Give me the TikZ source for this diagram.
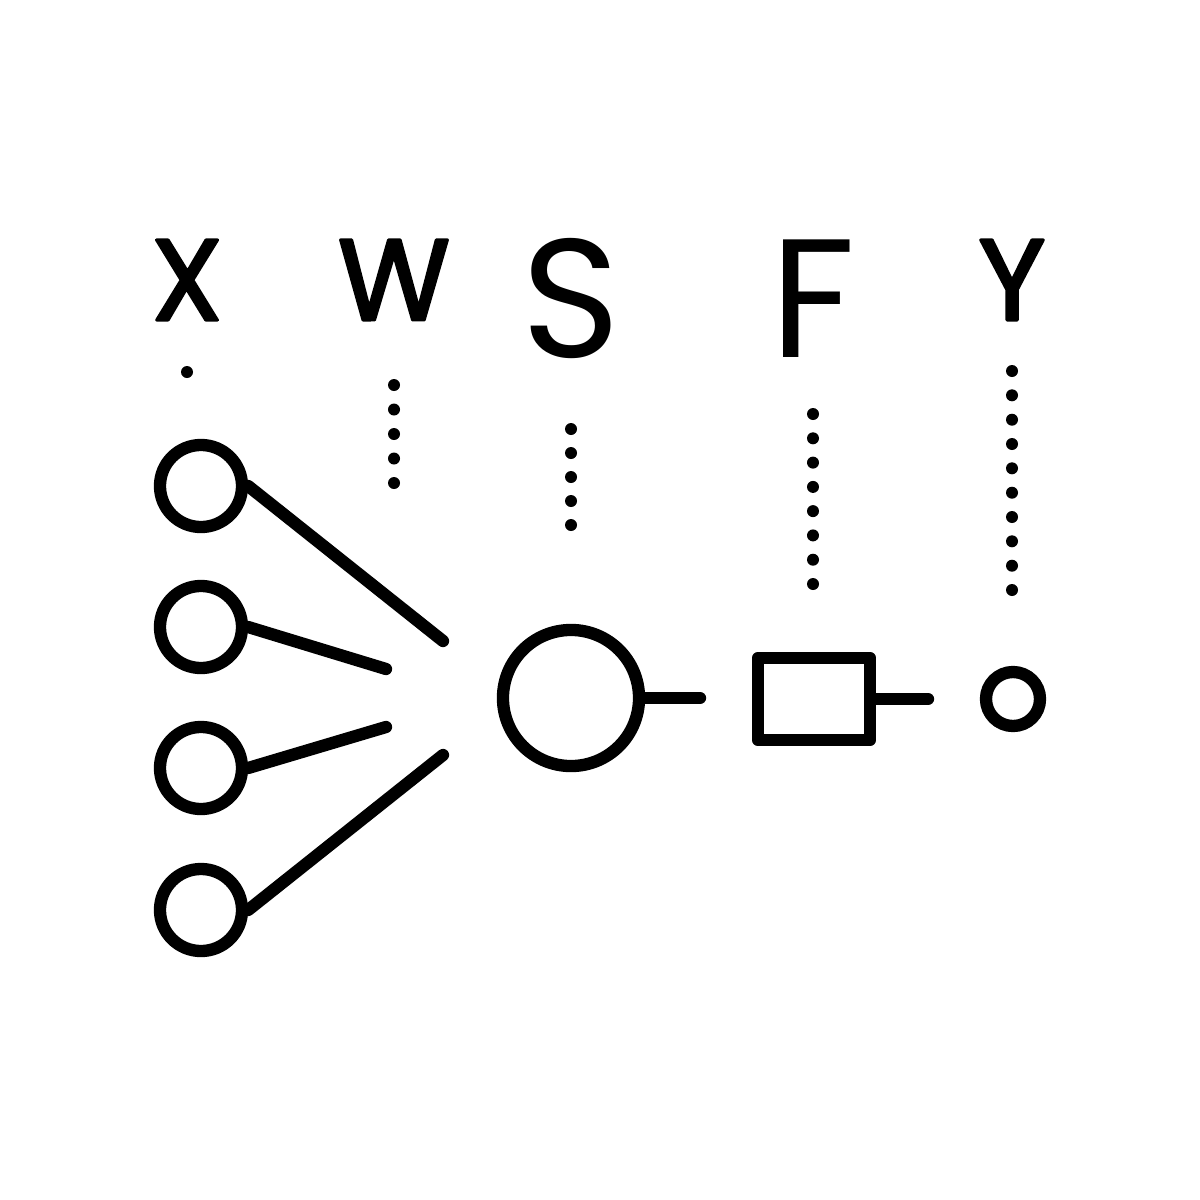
\documentclass[tikz,border=0pt]{standalone}
\usepackage{fontspec}
\setmainfont{Poppins}
\newfontfamily\letfont{Poppins}[FakeBold=2.5]
\newfontfamily\bigletfont{Poppins}
\begin{document}
\begin{tikzpicture}[x=0.01cm,y=-0.01cm,line width=3.5pt,line cap=round,line join=round,
  neuron/.style={circle,draw,inner sep=0pt,minimum size=0.82cm},
  hidden/.style={circle,draw,inner sep=0pt,minimum size=1.36cm},
  outnode/.style={circle,draw,inner sep=0pt,minimum size=0.54cm},
  actbox/.style={rectangle,draw,inner sep=0pt,minimum width=1.12cm,minimum height=0.82cm},
  letsmall/.style={inner sep=0pt,font=\letfont\fontsize{32.7pt}{36pt}\selectfont},
  letbig/.style={inner sep=0pt,font=\bigletfont\fontsize{48pt}{52pt}\selectfont},
  dotmark/.style={fill=black}]
\useasboundingbox (0,0) rectangle (1200,1200);
\fill[white] (0,0) rectangle (1200,1200);
% letters
\node[letsmall] (lx) at (187,280) {X};
\node[letsmall] (lw) at (394,280) {W};
\node[letbig] (ls) at (571,299) {S};
\node[letbig] (lf) at (813,299) {F};
\node[letsmall] (ly) at (1012,280) {Y};
% dots
\fill[dotmark] (187,372) circle (6);
\foreach \yy in {385,409.5,434,458.5,483} \fill[dotmark] (394,\yy) circle (6);
\foreach \yy in {429,453,477,501,525} \fill[dotmark] (571,\yy) circle (6);
\foreach \yy in {414,438.3,462.6,486.9,511.1,535.4,559.7,584} \fill[dotmark] (813,\yy) circle (6);
\foreach \yy in {371,395.3,419.7,444,468.3,492.7,517,541.3,565.7,590} \fill[dotmark] (1012,\yy) circle (6);
% input neurons
\node[neuron] (i1) at (201,486) {};
\node[neuron] (i2) at (201,627) {};
\node[neuron] (i3) at (201,768) {};
\node[neuron] (i4) at (201,910) {};
\coordinate (e1) at (443,641);
\coordinate (e2) at (386,669);
\coordinate (e3) at (386,727);
\coordinate (e4) at (443,755);
\draw (i1.east) -- (e1);
\draw (i2.east) -- (e2);
\draw (i3.east) -- (e3);
\draw (i4.east) -- (e4);
% hidden, activation, output
\node[hidden] (h) at (571,698) {};
\coordinate (h1) at (700,698);
\draw (h.east) -- (h1);
\node[actbox] (b) at (814,699) {};
\coordinate (b1) at (928,699);
\draw (b.east) -- (b1);
\node[outnode] (o) at (1013,699) {};
\end{tikzpicture}
\end{document}
